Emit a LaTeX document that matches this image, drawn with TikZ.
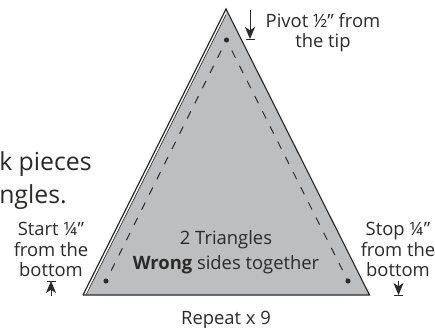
\documentclass[tikz,border=0pt]{standalone}
\usepackage{fontspec}
\setmainfont{Open Sans}
\usetikzlibrary{arrows.meta}
\definecolor{ink}{HTML}{2B2A29}
\definecolor{fabric}{HTML}{BCBEC0}
\tikzset{
  lbl/.style={inner sep=0pt,text=ink,font=\fontsize{13.8pt}{15.4pt}\selectfont,align=center},
  big/.style={inner sep=0pt,text=ink,font=\fontsize{18.6pt}{22pt}\selectfont,anchor=west},
  edgeline/.style={draw=ink,line width=0.85pt,line join=miter},
  seam/.style={draw=ink,line width=0.7pt,dash pattern=on 6pt off 6.75pt,dash phase=6pt},
  dotm/.style={circle,fill=ink,inner sep=0pt,minimum size=3.8pt},
  pointer/.style={draw=ink,line width=0.6pt,-{Stealth[length=9pt,width=7.5pt,inset=2.5pt]}},
  stopbar/.style={draw=ink,line width=0.7pt}
}
\begin{document}
\begin{tikzpicture}[x=0.75pt,y=-0.75pt]
\useasboundingbox (0,0) rectangle (435,328);
\coordinate (A) at (226,9);
\coordinate (L) at (83,295);
\coordinate (R) at (369.5,295);
\coordinate (A2) at (226,14.5);
\coordinate (L2) at (86,295);
\fill[fabric] (A) -- (R) -- (L) -- cycle;
\fill[white] (L) -- (A) -- (A2) -- (L2) -- cycle;
\draw[edgeline] (L) -- (A) -- (R) -- (L);
\draw[draw=ink,line width=0.5pt] (L2) -- (A2);
\node[dotm] (p1) at (226.5,40) {};
\node[dotm] (p2) at (106,281) {};
\node[dotm] (p3) at (348,281) {};
\draw[seam] (p1) -- (p2);
\draw[seam] (p1) -- (p3);
\node[lbl,anchor=north] (t1) at (323,13) {Pivot ½" from\\the tip};
\node[lbl,anchor=north] (t2) at (51,222) {Start ¼"\\from the\\bottom};
\node[lbl,anchor=north] (t3) at (398,222) {Stop ¼"\\from the\\bottom};
\node[lbl] (t4) at (226,240) {2 Triangles};
\node[lbl] (t5) at (226,265) {\textbf{Wrong} sides together};
\node[lbl] (t6) at (226,320) {Repeat x 9};
\node[big] (t7) at (-1,164) {k pieces};
\node[big] (t8) at (-1,197) {ngles.};
\coordinate (a1) at (250,10);
\coordinate (a2) at (250,39);
\draw[pointer] (a1) -- (a2);
\draw[stopbar] (245.5,39) -- (254.5,39);
\coordinate (b1) at (51,296);
\coordinate (b2) at (51,281);
\draw[pointer] (b1) -- (b2);
\draw[stopbar] (46.5,281.5) -- (55.5,281.5);
\coordinate (c1) at (398.5,281);
\coordinate (c2) at (398.5,295);
\draw[pointer] (c1) -- (c2);
\draw[stopbar] (394,295.5) -- (403,295.5);
\end{tikzpicture}
\end{document}
